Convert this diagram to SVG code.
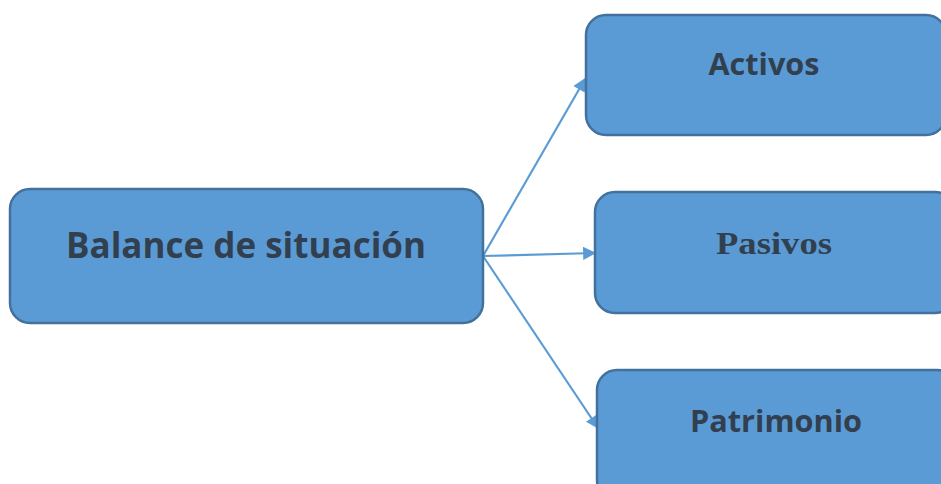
<svg xmlns="http://www.w3.org/2000/svg" width="941" height="484" viewBox="0 0 941 484">
<style>
.box{fill:#5b9bd5;stroke:#41719c;stroke-width:2.5}
.t{font-family:"Open Sans","Liberation Sans",sans-serif;font-weight:bold;fill:#323f4f;text-anchor:middle}
.s{font-family:"Liberation Serif",serif;font-weight:bold;fill:#323f4f;text-anchor:middle}
.c{stroke:#5b9bd5;stroke-width:2.2;fill:none;marker-end:url(#ah)}
</style>
<defs>
<marker id="ah" viewBox="0 0 10 10" refX="9" refY="5" markerWidth="6.5" markerHeight="6" orient="auto" markerUnits="strokeWidth">
<path d="M0,0 L10,5 L0,10 z" fill="#5b9bd5"/>
</marker>
</defs>
<g id="connectors">
<line class="c" x1="483" y1="256" x2="585" y2="79"/>
<line class="c" x1="483" y1="256" x2="595" y2="253"/>
<line class="c" x1="483" y1="256" x2="598" y2="428"/>
</g>
<g id="balance">
<rect class="box" x="10" y="189" width="473" height="134" rx="20"/>
<text class="t" x="246" y="258" font-size="35" textLength="360" lengthAdjust="spacingAndGlyphs">Balance de situación</text>
</g>
<g id="activos">
<rect class="box" x="586" y="15" width="360" height="120" rx="20"/>
<text class="t" x="764" y="75" font-size="31" textLength="111" lengthAdjust="spacingAndGlyphs">Activos</text>
</g>
<g id="pasivos">
<rect class="box" x="595" y="192" width="360" height="121" rx="20"/>
<text class="s" x="774" y="254" font-size="31" textLength="116" lengthAdjust="spacingAndGlyphs">Pasivos</text>
</g>
<g id="patrimonio">
<rect class="box" x="597" y="370" width="360" height="130" rx="20"/>
<text class="t" x="776" y="432" font-size="31" textLength="172" lengthAdjust="spacingAndGlyphs">Patrimonio</text>
</g>
</svg>
